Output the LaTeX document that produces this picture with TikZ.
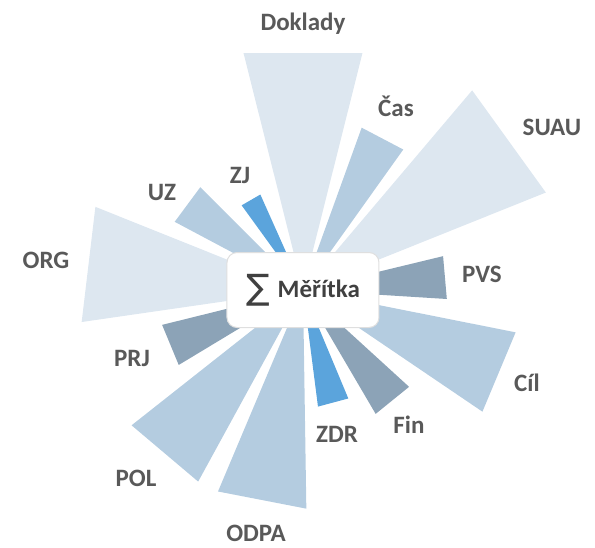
\documentclass[tikz,border=0pt]{standalone}
\usepackage{fontspec}
\setmainfont{Carlito}
\newfontfamily\sumfont{DejaVu Sans}
\usetikzlibrary{calc}
\definecolor{lightwedge}{HTML}{DDE7F0}
\definecolor{midwedge}{HTML}{B4CCE0}
\definecolor{darkwedge}{HTML}{8CA3B7}
\definecolor{bluewedge}{HTML}{5BA4DC}
\definecolor{labelgray}{HTML}{595959}
\definecolor{titlegray}{HTML}{404040}
\begin{document}
\begin{tikzpicture}[x=1pt,y=1pt,
  lbl/.style={font=\bfseries\fontsize{25}{30}\selectfont,text=labelgray,inner sep=0pt,text height=16pt,text depth=0pt},
  hub/.style={draw=gray!25,line width=1pt,fill=white,rounded corners=10pt,minimum width=152pt,minimum height=75pt,
    font=\bfseries\fontsize{25}{30}\selectfont,text=titlegray}]
\useasboundingbox (-303,-257) rectangle (292,290);
% wedges: angle/length/half width/colour
\foreach \ang/\len/\wid/\col in {90/237/59.5/lightwedge, 62.3/171/23.5/midwedge,
    35.8/254/63/lightwedge, 5/142.5/21.5/darkwedge, -22.7/212.5/43/midwedge,
    -51/142/21.5/darkwedge, -75/116.5/15.7/bluewedge, -101/214/45/midwedge,
    -130.2/214/43.6/midwedge, -157.5/143.5/21.7/darkwedge, 173.2/216/58/lightwedge,
    143.5/143.7/21.5/midwedge, 120/104/10.8/bluewedge}
  \fill[\col] (0,0) -- ($(\ang:\len)+(\ang+90:\wid)$) -- ($(\ang:\len)+(\ang-90:\wid)$) -- cycle;
\node[hub] (hub) at (0,0) {\raisebox{-2pt}{\sumfont\mdseries\fontsize{35}{35}\selectfont ∑}\hspace{8pt}Měřítka};
\node[lbl] (doklady) at (0,268) {Doklady};
\node[lbl] (cas) at (93,182) {Čas};
\node[lbl] (suau) at (249,163) {SUAU};
\node[lbl] (pvs) at (179,16) {PVS};
\node[lbl] (cil) at (224,-93) {Cíl};
\node[lbl] (fin) at (106,-135) {Fin};
\node[lbl] (zdr) at (34,-144) {ZDR};
\node[lbl] (odpa) at (-47,-243) {ODPA};
\node[lbl] (pol) at (-167,-188) {POL};
\node[lbl] (prj) at (-171,-68) {PRJ};
\node[lbl] (org) at (-257,30) {ORG};
\node[lbl] (uz) at (-141,98) {UZ};
\node[lbl] (zj) at (-63,115) {ZJ};
\end{tikzpicture}
\end{document}
